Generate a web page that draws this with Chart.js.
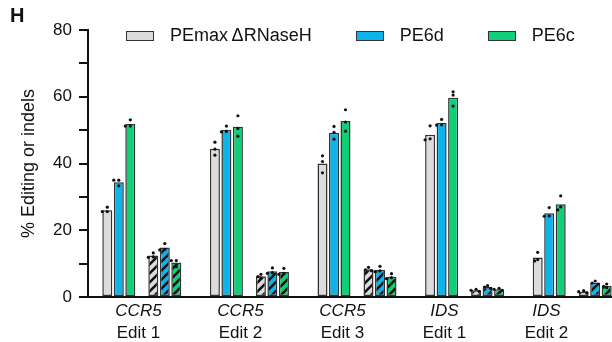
<!DOCTYPE html>
<html>
<head>
<meta charset="utf-8">
<script src="https://cdn.jsdelivr.net/npm/chart.js@4.4.1/dist/chart.umd.min.js"></script>
<style>
  html, body { margin: 0; padding: 0; background: #fff; }
  #quadro { position: relative; width: 612px; height: 342px; overflow: hidden; }
  #grafico { position: absolute; left: 0; top: 0; }
  #legenda { position: absolute; left: 126px; top: 25px; display: flex; gap: 44px;
             font: 18px "Liberation Sans", Arial, sans-serif; line-height: 21px; color: #111; }
  .item { display: flex; align-items: center; white-space: nowrap; }
  .caixa { width: 26px; height: 8px; border: 1.5px solid #333; margin-right: 16px; }
</style>
</head>
<body>
<div id="quadro">
  <canvas id="grafico" width="626" height="342"></canvas>
  <div id="legenda"></div>
</div>
<script>
// Categorias (gene / edição)
const genes = ["CCR5", "CCR5", "CCR5", "IDS", "IDS"];
const edicoes = ["Edit 1", "Edit 2", "Edit 3", "Edit 1", "Edit 2"];
const series = ["PEmax\u2009\u0394RNaseH", "PE6d", "PE6c"];
const cores = ["#dcdcdc", "#0cb4ea", "#0fcf78"];

// % edição (barras cheias)
const edicaoPEmax = [26.0, 44.4, 40.0, 48.6, 11.8];
const edicaoPE6d = [34.4, 50.1, 49.2, 52.1, 25.1];
const edicaoPE6c = [51.8, 51.0, 52.7, 59.7, 27.8];

// % indels (barras hachuradas)
const indelsPEmax = [12.4, 6.2, 8.3, 2.0, 1.6];
const indelsPE6d = [14.8, 7.7, 8.2, 3.0, 4.3];
const indelsPE6c = [10.3, 7.5, 6.1, 2.3, 3.3];

// replicatas (pontos)
const repEdicaoPEmax = [[26.9, 25.6, 25.6], [46.4, 44.3, 42.5], [42.3, 40.6, 37.2], [51.3, 47.4, 47.1], [13.4, 11.2, 10.8]];
const repEdicaoPE6d = [[35.0, 35.0, 33.3], [51.2, 49.6, 49.5], [51.1, 49.3, 47.3], [53.2, 51.6, 51.5], [26.8, 24.3, 24.2]];
const repEdicaoPE6c = [[53.1, 51.2, 51.2], [54.3, 50.5, 48.2], [56.1, 52.4, 49.7], [61.5, 60.5, 57.2], [30.3, 27.0, 26.1]];
const repIndelsPEmax = [[13.2, 12.0, 11.9], [6.8, 6.1, 5.7], [8.9, 8.1, 7.9], [2.3, 2.0, 1.7], [1.9, 1.6, 1.3]];
const repIndelsPE6d = [[16.0, 14.3, 14.1], [8.7, 7.3, 7.1], [9.2, 7.8, 7.6], [3.4, 3.0, 2.6], [4.8, 4.2, 3.9]];
const repIndelsPE6c = [[10.9, 10.9, 9.1], [8.6, 7.1, 6.8], [7.0, 5.8, 5.5], [2.6, 2.3, 2.0], [3.9, 3.2, 2.8]];

// Ticks do eixo Y
const ticksY = [0, 20, 40, 60, 80];

const fonte = "'Liberation Sans', Arial, sans-serif";

// Padrão hachurado "/" sobre a cor da série
function hachura(cor) {
  const c = document.createElement("canvas");
  c.width = 9;
  c.height = 9;
  const g = c.getContext("2d");
  g.fillStyle = cor;
  g.fillRect(0, 0, 9, 9);
  g.strokeStyle = "#111";
  g.lineWidth = 2.6;
  g.beginPath();
  g.moveTo(-1, 10); g.lineTo(10, -1);
  g.moveTo(-1, 1); g.lineTo(1, -1);
  g.moveTo(8, 10); g.lineTo(10, 8);
  g.stroke();
  return g.createPattern(c, "repeat");
}

function barra(valores, fundo, replicas) {
  return {
    data: valores,
    backgroundColor: fundo,
    borderColor: "#333",
    borderWidth: 1.5,
    borderSkipped: false,
    replicas: replicas,
  };
}

const datasets = [
  barra(edicaoPEmax, cores[0], repEdicaoPEmax),
  barra(edicaoPE6d, cores[1], repEdicaoPE6d),
  barra(edicaoPE6c, cores[2], repEdicaoPE6c),
  { data: genes.map(() => null), backgroundColor: "rgba(0,0,0,0)" }, // espaço entre edição e indels
  barra(indelsPEmax, hachura(cores[0]), repIndelsPEmax),
  barra(indelsPE6d, hachura(cores[1]), repIndelsPE6d),
  barra(indelsPE6c, hachura(cores[2]), repIndelsPE6c),
];

// Plugin para desenhar os pontos das replicatas sobre cada barra
const pontosReplicas = {
  id: "pontosReplicas",
  afterDatasetsDraw(chart) {
    const ctx = chart.ctx;
    const eixoY = chart.scales.y;
    chart.data.datasets.forEach(function (ds, d) {
      if (!ds.replicas) return;
      chart.getDatasetMeta(d).data.forEach(function (el, i) {
        const usados = [];
        ds.replicas[i].forEach(function (r) {
          const py = eixoY.getPixelForValue(r);
          const dx = [0, -3, 3, -5, 5].find(function (o) {
            return usados.every(function (p) { return Math.hypot(p[0] - o, p[1] - py) >= 3.2; });
          }) || 0;
          usados.push([dx, py]);
          ctx.beginPath();
          ctx.arc(el.x + dx, py, 1.6, 0, Math.PI * 2);
          ctx.fillStyle = "#111";
          ctx.fill();
        });
      });
    });
  },
};

function eixoRotulos(textos, peso, estilo, padding, altura) {
  return {
    type: "linear",
    position: "bottom",
    weight: peso,
    offset: false,
    min: -0.495,
    max: 4.78,
    grid: { display: false, drawTicks: false, offset: false },
    border: { display: false },
    afterBuildTicks: function (eixo) {
      eixo.ticks = textos.map(function (_, i) { return { value: i }; });
    },
    afterFit: function (eixo) { eixo.height = altura; },
    ticks: {
      autoSkip: false,
      maxRotation: 0,
      padding: padding,
      color: "#111",
      font: { family: fonte, size: 17, style: estilo, lineHeight: 1.1 },
      callback: function (valor, indice) { return textos[indice]; },
    },
  };
}

var ctx = document.getElementById("grafico").getContext("2d");
var grafico = new Chart(ctx, {
  type: "bar",
  data: { labels: genes.map((g, i) => g + " " + edicoes[i]), datasets: datasets },
  options: {
    responsive: false,
    animation: false,
    events: [],
    categoryPercentage: 0.748,
    barPercentage: 0.87,
    layout: { padding: { left: 10, right: 0, top: 0, bottom: 0 } },
    plugins: {
      legend: { display: false },
      tooltip: { enabled: false },
      title: {
        display: true,
        text: "H",
        align: "start",
        color: "#111",
        font: { family: fonte, size: 20, weight: "bold" },
        padding: { top: 4, bottom: 2 },
      },
    },
    scales: {
      x: {
        type: "category",
        afterFit: function (eixo) { eixo.height = 0; },
        grid: { display: false, drawTicks: false },
        border: { display: true, color: "#111", width: 2 },
        ticks: { display: false },
      },
      xGene: eixoRotulos(genes, 1, "italic", 4.5, 22),
      xEdicao: eixoRotulos(edicoes, 2, "normal", 4.5, 23),
      y: {
        min: 0,
        max: 80,
        afterFit: function (eixo) { eixo.width = 78; },
        border: { display: true, color: "#111", width: 2 },
        grid: { drawOnChartArea: false, color: "#111", lineWidth: 2, tickLength: 9 },
        ticks: {
          stepSize: 10,
          padding: 7,
          color: "#111",
          font: { family: fonte, size: 17 },
          callback: function (v) { return ticksY.includes(v) ? v : ""; },
        },
        title: {
          display: true,
          text: "% Editing or indels",
          color: "#111",
          font: { family: fonte, size: 18 },
          padding: { top: 8, bottom: 0 },
        },
      },
    },
  },
  plugins: [pontosReplicas],
});

// Legenda em HTML (só as séries de edição)
var legenda = document.getElementById("legenda");
series.forEach(function (nome, i) {
  var item = document.createElement("div");
  item.className = "item";
  var caixa = document.createElement("span");
  caixa.className = "caixa";
  caixa.style.background = cores[i];
  var texto = document.createElement("span");
  texto.textContent = nome;
  item.appendChild(caixa);
  item.appendChild(texto);
  legenda.appendChild(item);
});
</script>
</body>
</html>
